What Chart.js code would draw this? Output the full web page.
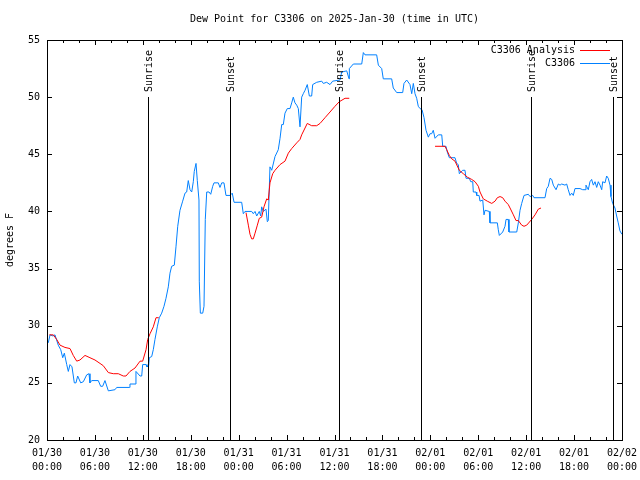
<!DOCTYPE html>
<html>
<head>
<meta charset="utf-8">
<script src="https://cdn.jsdelivr.net/npm/chart.js@4.4.1/dist/chart.umd.min.js"></script>
<style>
  html, body { margin: 0; padding: 0; background: #fff; }
  canvas { display: block; }
</style>
</head>
<body>
<canvas id="dewChart" width="640" height="480"></canvas>
<script>
// hours since 2025-01-30 00:00 UTC
const obsHours = [0.16,0.38,0.75,1.0,1.41,1.72,1.97,2.17,2.47,2.67,2.88,3.13,3.42,3.63,3.84,4.22,4.55,4.97,5.26,5.38,5.60,6.42,6.72,6.97,7.26,7.68,8.51,8.73,10.31,10.39,11.02,11.14,11.65,11.86,11.98,12.40,12.52,12.73,12.81,13.11,13.31,13.52,13.81,14.06,14.36,14.65,14.90,15.19,15.40,15.61,15.94,16.15,16.37,16.65,16.99,17.28,17.49,17.69,17.91,18.12,18.32,18.44,18.66,18.82,19.03,19.07,19.20,19.50,19.66,19.82,20.00,20.29,20.50,20.75,20.91,21.45,21.66,21.88,22.16,22.41,22.92,23.20,23.42,24.38,24.58,24.79,25.63,25.83,26.05,26.26,26.58,26.76,26.88,27.09,27.42,27.59,27.71,27.92,28.14,28.55,28.96,29.18,29.39,29.59,29.80,30.09,30.43,30.64,30.84,31.05,31.27,31.47,31.68,31.89,32.09,32.31,32.59,32.85,33.14,33.27,33.77,34.40,34.60,35.02,35.44,35.77,36.69,36.90,37.53,37.82,37.86,38.36,39.41,39.61,39.82,41.28,41.49,41.91,42.11,43.16,43.36,43.79,44.54,44.70,45.04,45.45,45.67,45.87,46.08,46.29,46.49,46.71,46.96,47.21,47.46,47.75,47.96,48.17,48.37,48.59,49.00,49.43,49.55,49.96,50.12,50.38,51.09,51.30,51.50,51.63,52.05,52.34,52.47,52.88,53.06,53.31,53.38,53.72,53.81,54.10,54.22,54.56,54.72,54.85,55.38,55.47,56.39,56.51,56.64,57.06,57.35,57.48,57.76,57.85,58.82,59.02,59.23,59.44,59.73,60.27,60.48,60.82,60.98,62.36,62.57,62.77,62.99,63.20,63.40,63.74,64.03,64.24,64.45,64.86,65.07,65.27,65.49,65.70,65.90,66.11,66.74,67.08,67.37,67.49,67.78,67.99,68.20,68.41,68.62,68.83,69.03,69.25,69.46,69.58,69.87,70.08,70.28,70.50,70.62,70.83,71.12,71.33,71.53,71.74,71.99];
const obsDewpt = [28.5,29.2,29.1,29.2,28.3,27.9,27.2,27.6,26.6,26.0,26.6,26.4,25.0,25.0,25.6,25.0,25.1,25.7,25.8,25.0,25.2,25.2,24.7,24.7,25.2,24.3,24.4,24.6,24.6,24.9,24.9,26.0,25.6,25.6,26.6,26.6,26.4,26.5,27.2,27.3,27.9,28.8,29.9,30.7,31.1,31.7,32.4,33.4,34.6,35.2,35.3,36.9,38.7,40.1,40.9,41.6,41.7,42.7,41.9,41.7,42.6,43.5,44.2,42.7,41.0,33.9,31.1,31.1,31.7,39.3,41.7,41.7,41.5,42.2,42.5,42.5,42.1,42.5,42.5,41.4,41.4,41.6,40.8,40.8,39.8,40.0,40.0,39.8,40.0,39.6,40.0,39.6,40.4,40.0,40.2,39.1,39.2,43.9,43.6,44.8,45.4,46.4,47.6,47.6,48.6,49.0,49.0,49.5,50.0,49.5,49.3,49.0,47.4,50.0,50.3,50.6,51.1,50.1,50.1,51.1,51.3,51.4,51.2,51.3,51.1,51.4,51.5,52.2,52.3,51.6,52.5,52.9,52.9,53.9,53.7,53.7,52.8,52.5,51.6,51.6,50.8,50.4,50.4,51.2,51.5,51.1,50.3,51.2,50.3,49.9,49.2,49.0,48.9,48.2,47.1,46.5,46.8,46.8,47.1,46.4,46.7,46.7,45.7,45.7,45.2,44.7,44.7,44.2,44.1,43.3,43.6,43.6,42.9,42.9,42.6,42.6,41.7,41.7,41.4,41.4,40.9,41.0,39.7,40.1,40.0,39.0,39.0,38.4,37.9,38.2,38.7,39.3,39.3,38.2,38.2,39.0,40.1,40.7,41.4,41.5,41.3,41.4,41.2,41.2,42.0,42.2,42.9,42.8,42.3,41.9,42.4,42.3,42.4,42.3,42.4,41.9,41.4,41.6,41.4,42.0,42.0,41.9,41.9,42.3,41.9,42.6,42.8,42.3,42.6,42.1,42.6,42.3,41.9,42.6,42.5,43.1,42.9,42.3,41.3,40.7,40.3,39.6,39.0,38.3,38.0];

const anaHours = [0.29,0.79,1.21,1.63,2.25,2.88,3.29,3.72,4.13,4.76,5.38,6.01,6.64,7.05,7.68,8.30,8.93,9.55,9.89,10.39,11.02,11.65,11.98,12.40,12.61,12.90,13.31,13.65,13.99,19.0,24.92,25.21,25.42,25.63,25.83,26.05,26.34,26.58,26.88,27.17,27.51,27.71,27.92,28.26,28.55,29.18,29.80,30.22,30.64,31.27,31.68,31.89,32.31,32.59,33.14,33.77,34.19,34.81,35.44,36.06,36.60,37.32,37.85,43.0,48.59,49.84,50.05,50.38,50.68,51.09,51.63,52.13,52.63,53.18,53.60,54.01,54.22,54.63,55.13,55.69,56.10,56.39,56.73,57.06,57.35,57.76,57.98,58.40,58.73,59.02,59.44,59.73,60.07,60.69,61.11,61.52,61.86];
const anaDewpt = [29.2,29.2,28.8,28.3,28.1,28.0,27.4,26.9,27.0,27.4,27.2,27.0,26.7,26.5,25.9,25.8,25.8,25.6,25.6,26.0,26.3,26.9,26.9,27.9,28.8,29.3,29.9,30.7,30.7,null,39.9,38.8,38.0,37.6,37.6,38.1,38.8,39.4,39.5,40.4,41.1,41.0,42.5,43.3,43.6,44.1,44.4,45.1,45.5,46.0,46.3,46.7,47.3,47.7,47.5,47.5,47.7,48.2,48.7,49.2,49.6,49.9,49.9,null,45.7,45.7,45.4,44.9,44.6,44.4,43.6,43.3,43.0,42.8,42.6,42.2,41.7,41.1,40.9,40.7,40.9,41.2,41.3,41.2,40.9,40.6,40.3,39.7,39.2,39.2,38.8,38.7,38.8,39.3,39.7,40.2,40.3];

const sunHours = [12.67, 22.96, 36.6, 46.83, 60.6, 70.9];
const sunLabels = ["Sunrise", "Sunset", "Sunrise", "Sunset", "Sunrise", "Sunset"];
const sunLineTop = 50;

const xTickLabels = [
  ["01/30", "00:00"], ["01/30", "06:00"], ["01/30", "12:00"], ["01/30", "18:00"],
  ["01/31", "00:00"], ["01/31", "06:00"], ["01/31", "12:00"], ["01/31", "18:00"],
  ["02/01", "00:00"], ["02/01", "06:00"], ["02/01", "12:00"], ["02/01", "18:00"],
  ["02/02", "00:00"]
];

const FONT = "'DejaVu Sans Mono', 'Liberation Mono', monospace";
Chart.defaults.font.family = FONT;
Chart.defaults.font.size = 10;
Chart.defaults.color = "#000";

const toPoints = (xs, ys) => xs.map((x, i) => ({ x: x, y: ys[i] }));

const datasets = [
  {
    label: "C3306 Analysis",
    data: toPoints(anaHours, anaDewpt),
    borderColor: "#ff0000",
    borderWidth: 1,
    pointRadius: 0,
    spanGaps: false,
  },
  {
    label: "C3306",
    data: toPoints(obsHours, obsDewpt),
    borderColor: "#0080ff",
    borderWidth: 1,
    pointRadius: 0,
  },
];

// box, inward ticks, sun lines, title, axis label and legend
const gnuplotDecor = {
  id: "gnuplotDecor",
  afterDatasetsDraw(chart) {
    const ctx = chart.ctx;
    const a = chart.chartArea;
    const xs = chart.scales.x;
    const ys = chart.scales.y;
    ctx.save();
    ctx.strokeStyle = "#000";
    ctx.lineWidth = 1;

    ctx.strokeRect(Math.round(a.left) + 0.5, Math.round(a.top) + 0.5,
      Math.round(a.right - a.left), Math.round(a.bottom - a.top));

    ctx.beginPath();
    for (let h = 0; h <= 72; h += 2) {
      const px = Math.round(xs.getPixelForValue(h)) + 0.5;
      const len = h % 6 === 0 ? 5 : 3;
      ctx.moveTo(px, a.bottom);
      ctx.lineTo(px, a.bottom - len);
      ctx.moveTo(px, a.top);
      ctx.lineTo(px, a.top + len);
    }
    for (let v = 20; v <= 55; v += 5) {
      const py = Math.round(ys.getPixelForValue(v)) + 0.5;
      ctx.moveTo(a.left, py);
      ctx.lineTo(a.left + 5, py);
      ctx.moveTo(a.right, py);
      ctx.lineTo(a.right - 5, py);
    }
    // sunrise / sunset markers
    const yTop = Math.round(ys.getPixelForValue(sunLineTop));
    sunHours.forEach((h) => {
      const px = Math.round(xs.getPixelForValue(h)) + 0.5;
      ctx.moveTo(px, yTop);
      ctx.lineTo(px, a.bottom);
    });
    ctx.stroke();

    ctx.fillStyle = "#000";
    ctx.font = "10px " + FONT;
    ctx.textAlign = "center";
    ctx.textBaseline = "middle";
    ctx.fillText("Dew Point for C3306 on 2025-Jan-30 (time in UTC)", (a.left + a.right) / 2, 19);

    ctx.save();
    ctx.translate(10, 240);
    ctx.rotate(-Math.PI / 2);
    ctx.fillText("degrees F", 0, 0);
    ctx.restore();

    sunHours.forEach((h, i) => {
      const px = Math.round(xs.getPixelForValue(h));
      ctx.save();
      ctx.translate(px + 1, 92);
      ctx.rotate(-Math.PI / 2);
      ctx.textAlign = "left";
      ctx.fillText(sunLabels[i], 0, 0);
      ctx.restore();
    });

    // legend
    ctx.textAlign = "right";
    [0, 1].forEach((i, k) => {
      const ds = chart.data.datasets[i];
      const y = 50 + k * 13;
      ctx.fillStyle = "#000";
      ctx.fillText(ds.label, 575, y);
      ctx.strokeStyle = ds.borderColor;
      ctx.beginPath();
      ctx.moveTo(580, Math.round(y) + 0.5);
      ctx.lineTo(610, Math.round(y) + 0.5);
      ctx.stroke();
    });
    ctx.restore();
  },
};

new Chart(document.getElementById("dewChart").getContext("2d"), {
  type: "line",
  data: { datasets: datasets },
  options: {
    responsive: false,
    animation: false,
    events: [],
    layout: { padding: { top: 40, right: 18, left: 0, bottom: 0 } },
    elements: { line: { tension: 0 } },
    plugins: {
      legend: { display: false },
      title: { display: false },
      tooltip: { enabled: false },
    },
    scales: {
      x: {
        type: "linear",
        min: 0,
        max: 72,
        grid: { display: false, drawTicks: false, tickLength: 0 },
        border: { display: false },
        afterFit: (s) => {
          s.height = 40;
          s.paddingLeft = 0;
          s.paddingRight = 0;
        },
        afterBuildTicks: (s) => {
          s.ticks = xTickLabels.map((_, i) => ({ value: i * 6 }));
        },
        ticks: {
          autoSkip: false,
          maxRotation: 0,
          padding: 6,
          font: { size: 10, lineHeight: 1.4 },
          callback: (v, i) => xTickLabels[i],
        },
      },
      y: {
        min: 20,
        max: 55,
        grid: { display: false, drawTicks: false, tickLength: 0 },
        border: { display: false },
        afterFit: (s) => { s.width = 47; },
        ticks: { stepSize: 5, padding: 7, font: { size: 10 } },
      },
    },
  },
  plugins: [gnuplotDecor],
});
</script>
</body>
</html>
